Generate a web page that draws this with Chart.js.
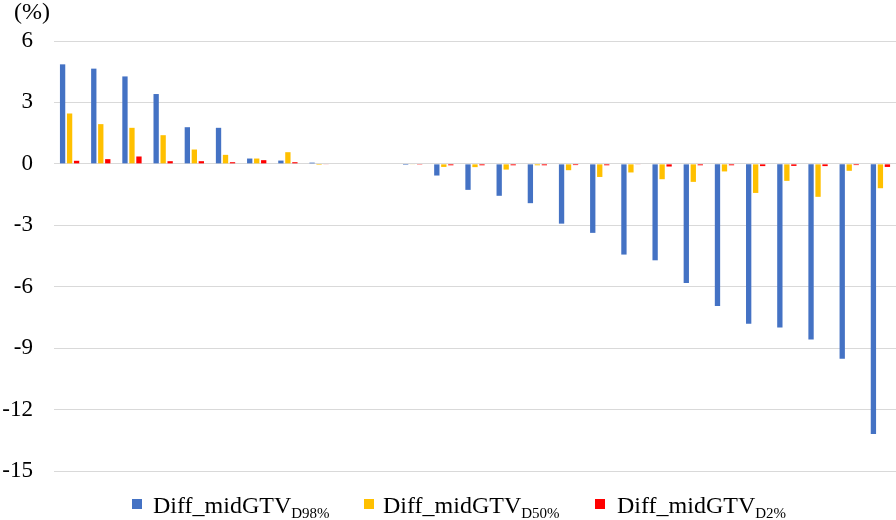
<!DOCTYPE html>
<html>
<head>
<meta charset="utf-8">
<script src="https://cdn.jsdelivr.net/npm/chart.js@4/dist/chart.umd.min.js"></script>
<style>
  html, body { margin: 0; padding: 0; background: #fff; }
  #wrap { position: relative; width: 896px; height: 520px; overflow: hidden; font-family: "Liberation Serif", "Times New Roman", serif; color: #000; }
  #c { position: absolute; left: 0; top: 0; }
  #unit { position: absolute; left: 14px; top: -1px; font-size: 24px; line-height: 24px; }
  .item { position: absolute; top: 493px; font-size: 24px; line-height: 24px; white-space: nowrap; }
  .sq { position: absolute; width: 10px; height: 10px; top: 499px; }
  .sub { font-size: 15px; vertical-align: -5px; }
</style>
</head>
<body>
<div id="wrap">
  <canvas id="c" width="896" height="520"></canvas>
  <div id="unit">(%)</div>
  <div id="legend"></div>
</div>
<script>
const categories = ["1","2","3","4","5","6","7","8","9","10","11","12","13","14","15","16","17","18","19","20","21","22","23","24","25","26","27"];
const diffD98 = [4.86, 4.65, 4.27, 3.41, 1.79, 1.76, 0.26, 0.16, 0.06, 0, 0, -0.05, -0.57, -1.27, -1.56, -1.92, -2.92, -3.37, -4.43, -4.71, -5.82, -6.94, -7.81, -7.99, -8.58, -9.52, -13.19];
const diffD50 = [2.46, 1.94, 1.76, 1.40, 0.70, 0.44, 0.26, 0.57, -0.05, 0, 0, -0.02, -0.15, -0.16, -0.28, -0.07, -0.31, -0.64, -0.42, -0.75, -0.88, -0.37, -1.42, -0.83, -1.61, -0.34, -1.19];
const diffD2 = [0.15, 0.23, 0.36, 0.13, 0.13, 0.08, 0.18, 0.08, -0.02, 0, 0, -0.01, -0.07, -0.07, -0.07, -0.07, -0.06, -0.07, -0.03, -0.13, -0.07, -0.07, -0.11, -0.10, -0.11, -0.06, -0.15];
const seriesNames = ["D98%", "D50%", "D2%"];
const seriesColors = ["#4472C4", "#FFC000", "#FF0000"];
const yTicks = { min: -15, max: 6, step: 3 };

// HTML legend (for subscripts)
const legendPos = [[132, 153], [364, 383], [595, 617]];
const legend = document.getElementById('legend');
seriesNames.forEach((n, i) => {
  const sq = document.createElement('div');
  sq.className = 'sq';
  sq.style.left = legendPos[i][0] + 'px';
  sq.style.background = seriesColors[i];
  legend.appendChild(sq);
  const it = document.createElement('div');
  it.className = 'item';
  it.style.left = legendPos[i][1] + 'px';
  it.innerHTML = 'Diff_midGTV<span class="sub">' + n + '</span>';
  legend.appendChild(it);
});

const seriesData = [diffD98, diffD50, diffD2];
new Chart(document.getElementById('c'), {
  type: 'bar',
  data: {
    labels: categories,
    datasets: seriesData.map((d, i) => ({
      label: 'Diff_midGTV ' + seriesNames[i],
      data: d,
      backgroundColor: seriesColors[i],
      borderWidth: 0,
      categoryPercentage: 0.673,
      barPercentage: 0.76
    }))
  },
  options: {
    responsive: false,
    devicePixelRatio: 1,
    animation: false,
    layout: { padding: { top: 41, bottom: 49, left: 0, right: 0 } },
    plugins: { legend: { display: false }, tooltip: { enabled: false } },
    scales: {
      x: { display: false },
      y: {
        min: yTicks.min,
        max: yTicks.max,
        afterFit: (s) => { s.width = 54; },
        border: { display: false },
        grid: { color: '#d9d9d9', lineWidth: 1, drawTicks: false },
        ticks: {
          stepSize: yTicks.step,
          padding: 21,
          color: '#000',
          font: { family: '"Liberation Serif", "Times New Roman", serif', size: 23 }
        }
      }
    }
  }
});
</script>
</body>
</html>
